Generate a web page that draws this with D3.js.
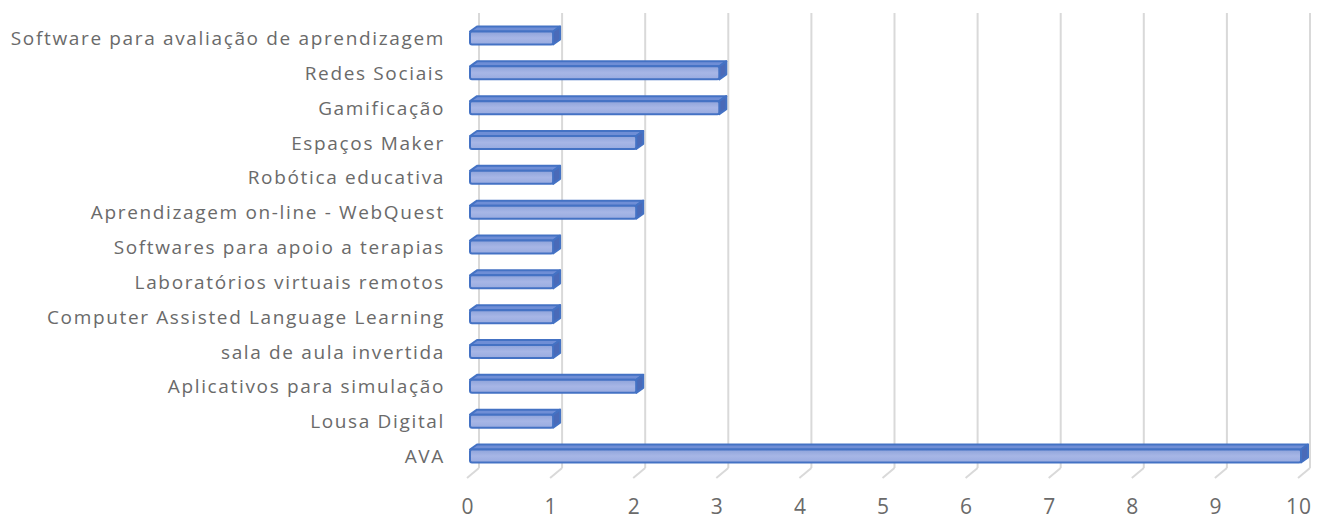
<!DOCTYPE html>
<html><head><meta charset="utf-8">
<script src="https://cdn.jsdelivr.net/npm/d3@7"></script>
<style>body{margin:0;background:#fff}</style>
</head><body>
<svg id="c" width="1323" height="520"></svg>
<script>
const categories = ["Software para avaliação de aprendizagem","Redes Sociais","Gamificação","Espaços Maker ","Robótica educativa","Aprendizagem on-line - WebQuest","Softwares para apoio a terapias","Laboratórios virtuais remotos","Computer Assisted Language Learning","sala de aula invertida","Aplicativos para simulação","Lousa Digital","AVA"];
const values = [1,3,3,2,1,2,1,1,1,1,2,1,10];
const ticks = [0,1,2,3,4,5,6,7,8,9,10];

const svg = d3.select("#c");
const x = d3.scaleLinear().domain([0,10]).range([467,1298]);
const y = d3.scalePoint().domain(categories).range([38,456]);
const DX = 12, DY = -10; // back plane offset
const floorY = 478;

const defs = svg.append("defs");
const g1 = defs.append("linearGradient").attr("id","front").attr("x1",0).attr("y1",0).attr("x2",0).attr("y2",1);
g1.append("stop").attr("offset","0%").attr("stop-color","#8ea3da");
g1.append("stop").attr("offset","50%").attr("stop-color","#a7b6e6");
g1.append("stop").attr("offset","100%").attr("stop-color","#98abe0");

// gridlines
const grid = svg.append("g").attr("stroke","#d9d9d9").attr("stroke-width",2).attr("fill","none");
ticks.forEach(t=>{
  grid.append("line").attr("x1",x(t)+DX).attr("x2",x(t)+DX).attr("y1",13).attr("y2",floorY+DY);
  grid.append("line").attr("x1",x(t)).attr("x2",x(t)+DX).attr("y1",floorY).attr("y2",floorY+DY);
});

// tick labels
svg.append("g").selectAll("text").data(ticks).join("text")
  .attr("x",d=>x(d)+1).attr("y",514).attr("text-anchor","middle")
  .attr("font-family","Open Sans, sans-serif").attr("font-size",21).attr("fill","#6a6a6a")
  .attr("letter-spacing",1)
  .text(d=>d);

// category labels
svg.append("g").selectAll("text").data(categories).join("text")
  .attr("x",445).attr("y",d=>y(d)+7).attr("text-anchor","end")
  .attr("font-family","Open Sans, sans-serif").attr("font-size",19).attr("fill","#6a6a6a")
  .attr("letter-spacing",1.65)
  .text(d=>d);

// bars
const h = 13, bdx = 7, bdy = -5, off = 3;
const bars = svg.append("g");
categories.forEach((c,i)=>{
  const x0 = x(0)+off, x1 = x(values[i])+off;
  const yt = y(c)-h/2, yb = yt+h;
  const gb = bars.append("g").attr("stroke","#4472c4").attr("stroke-width",2).attr("stroke-linejoin","round");
  gb.append("path").attr("fill","#6f8ed6")
    .attr("d",`M${x0},${yt} L${x0+bdx},${yt+bdy} L${x1+bdx},${yt+bdy} L${x1},${yt} Z`);
  gb.append("path").attr("fill","#4a6ab8")
    .attr("d",`M${x1},${yt} L${x1+bdx},${yt+bdy} L${x1+bdx},${yb+bdy} L${x1},${yb} Z`);
  gb.append("rect").attr("x",x0).attr("y",yt).attr("width",x1-x0).attr("height",h).attr("rx",2)
    .attr("fill","url(#front)");
});
</script>
</body></html>
